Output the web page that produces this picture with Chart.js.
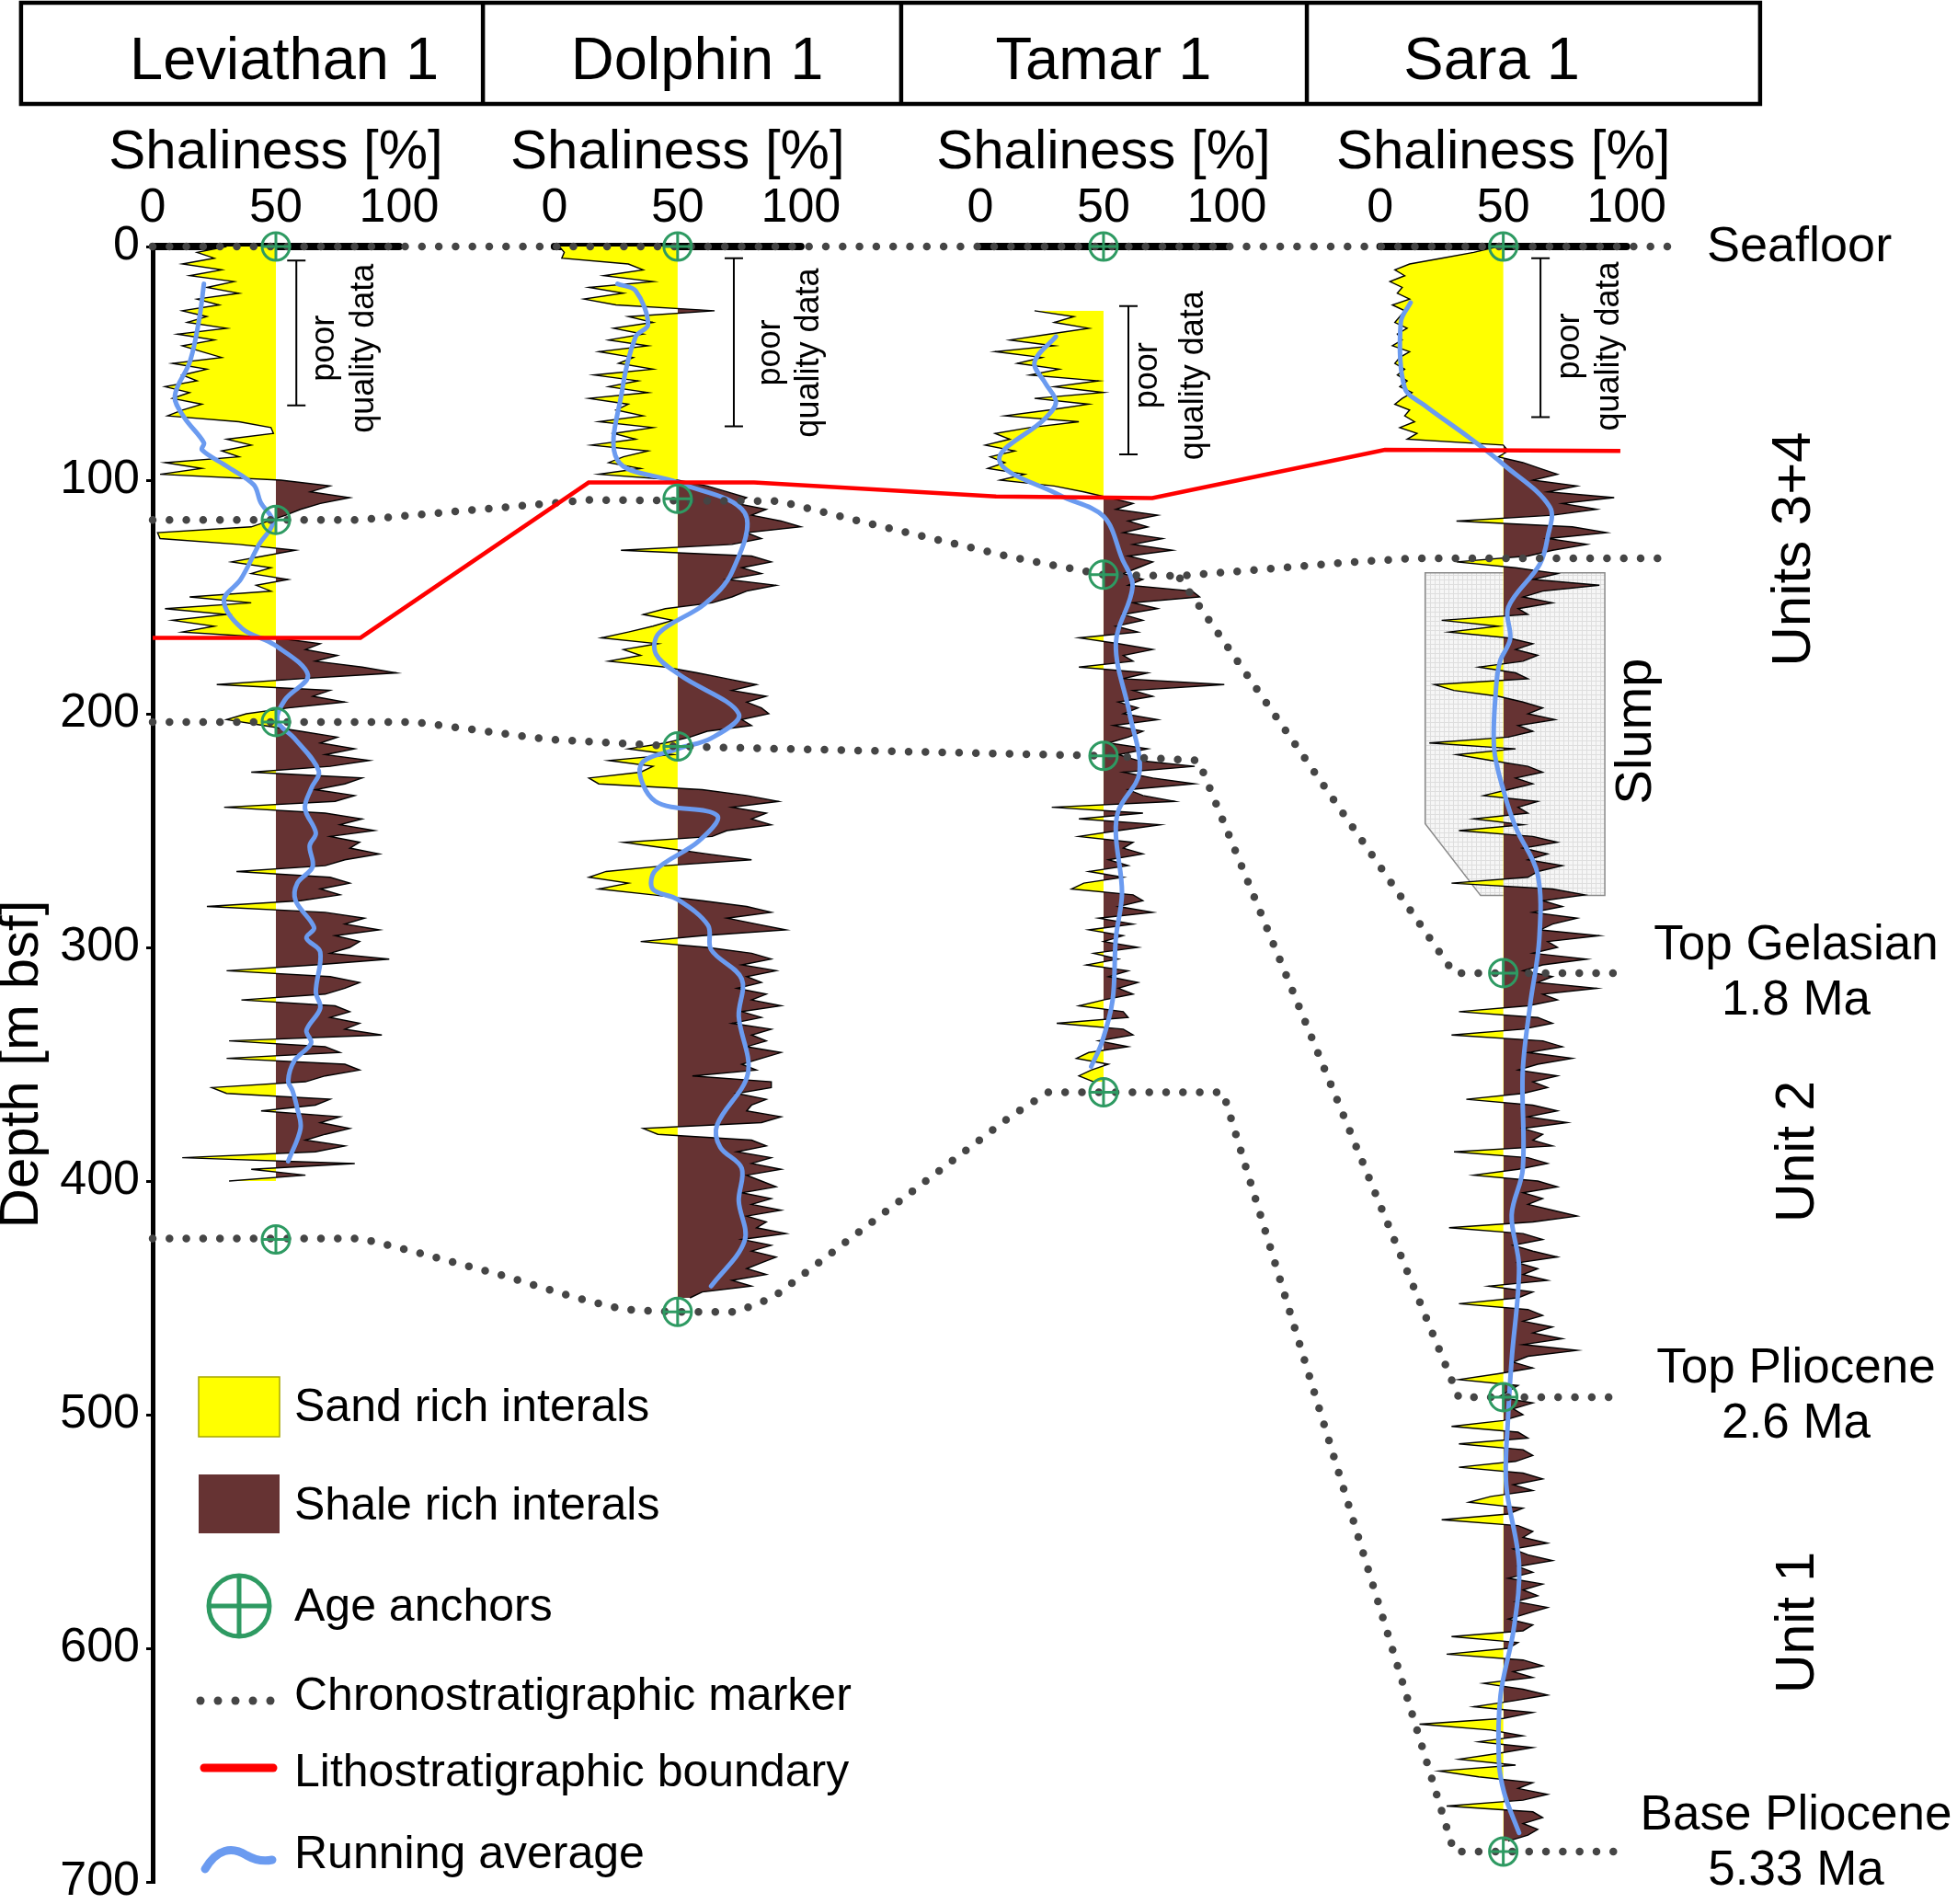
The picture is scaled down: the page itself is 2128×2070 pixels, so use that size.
<!DOCTYPE html>
<html>
<head>
<meta charset="utf-8">
<script src="https://cdn.jsdelivr.net/npm/chart.js@4.4.1/dist/chart.umd.min.js"></script>
<style>
  html, body { margin: 0; padding: 0; background: #fff; overflow: hidden; }
  #wrap { width: 2128px; height: 2070px; position: relative; }
</style>
</head>
<body>
<div id="wrap"><canvas id="logs"></canvas></div>
<script>
// Shaliness logs of four wells, with marker correlation
const wells = ['Leviathan 1', 'Dolphin 1', 'Tamar 1', 'Sara 1'];
const shalinessTicks = [0, 50, 100];
const depthTicks = [0, 100, 200, 300, 400, 500, 600, 700];

// shaliness [%], one sample every 2.5 m from the start depth
const logStep = 2.5;
const levStart = 0;
const levShale = [
  30, 18, 25, 12, 28, 15, 33, 22,   35, 18, 27, 12, 22, 14, 30, 10,
  25, 12, 20, 28, 8, 22, 12, 18,    5, 15, 8, 20, 12, 6, 35, 48,
  49, 30, 40, 28, 35, 5, 20, 3,     52, 72, 64, 80, 68, 60, 54, 47,
  40, 2, 3, 35, 58, 45, 32, 48,     40, 55, 42, 48, 15, 40, 5, 30,
  8, 25, 12, 50, 68, 62, 75, 66,    85, 99, 60, 26, 72, 65, 78, 55,
  38, 30, 45, 60, 75, 68, 82, 70,   88, 72, 40, 85, 78, 66, 82, 74,
  29, 70, 85, 76, 90, 72, 84, 80,   92, 78, 70, 34, 72, 80, 68, 76,
  60, 22, 70, 86, 78, 92, 74, 84,   80, 72, 96, 66, 30, 72, 84, 78,
  70, 36, 74, 80, 72, 84, 78, 93,   31, 70, 76, 30, 78, 84, 70, 62,
  24, 30, 72, 66, 44, 76, 68, 80,   70, 62, 78, 66, 12, 82, 40, 62,
  31
];
const dolStart = 0;
const dolShale = [
  2, 4, 3, 30, 36, 20, 40, 14,      28, 12, 25, 65, 30, 40, 24, 36,
  22, 38, 18, 32, 26, 40, 16, 34,   22, 38, 14, 30, 25, 36, 18, 40,
  24, 33, 15, 38, 28, 22, 35, 18,   50, 62, 70, 78, 74, 86, 80, 92,
  100, 78, 84, 72, 27, 80, 88, 76,  84, 70, 90, 78, 72, 64, 45, 36,
  48, 40, 30, 19, 42, 28, 35, 22,   45, 58, 70, 82, 72, 86, 78, 84,
  87, 76, 80, 62, 55, 45, 30, 48,   22, 40, 35, 14, 18, 60, 78, 91,
  72, 86, 80, 88, 70, 64, 28, 45,   62, 80, 45, 21, 14, 30, 18, 40,
  60, 78, 88, 70, 82, 94, 60, 35,   62, 80, 88, 76, 90, 78, 84, 74,
  86, 80, 92, 76, 84, 72, 88, 80,   86, 78, 92, 84, 76, 82, 56, 88,
  88, 74, 86, 80, 78, 92, 84, 36,   42, 80, 86, 74, 88, 80, 92, 78,
  84, 90, 76, 88, 80, 92, 78, 86,   82, 94, 76, 88, 80, 90, 84, 78,
  86, 72, 80, 60, 55
];
const tamStart = 27.5;
const tamShale = [
  22,
  38, 30, 44, 28, 12, 30, 6, 25,    15, 32, 20, 48, 30, 50, 22, 44,
  28, 10, 40, 20, 6, 12, 2, 14,     4, 10, 3, 18, 8, 30, 42, 52,
  62, 55, 72, 60, 68, 58, 74, 62,   78, 60, 70, 64, 58, 66, 60, 86,
  89, 62, 72, 58, 66, 55, 64, 40,   56, 70, 58, 62, 40, 68, 58, 99,
  62, 70, 56, 64, 58, 72, 54, 66,   60, 52, 68, 56, 64, 87, 58, 70,
  87, 60, 66, 79, 29, 66, 40, 73,   56, 40, 62, 58, 66, 52, 60, 44,
  58, 42, 37, 62, 66, 56, 70, 48,   62, 44, 58, 50, 64, 46, 56, 43,
  60, 52, 64, 56, 62, 50, 40, 58,   60, 31, 58, 62, 48, 60, 44, 39,
  52, 45, 40, 46
];
const saraStart = 0;
const saraShale = [
  48, 38, 25, 12, 6, 10, 4, 9,      7, 12, 5, 10, 8, 6, 11, 7,
  9, 5, 12, 8, 6, 10, 7, 11,        8, 13, 9, 6, 12, 10, 14, 8,
  15, 11, 50, 52, 48, 58, 65, 72,   62, 80, 68, 95, 74, 88, 70, 31,
  78, 92, 68, 84, 70, 60, 31, 55,   72, 62, 89, 66, 58, 70, 56, 60,
  25, 48, 28, 52, 62, 55, 64, 58,   40, 55, 60, 22, 30, 48, 58, 66,
  60, 71, 56, 62, 52, 20, 55, 31,   45, 60, 66, 55, 62, 52, 42, 64,
  56, 60, 38, 58, 32, 62, 72, 58,   68, 60, 74, 64, 60, 29, 70, 83,
  66, 74, 62, 80, 70, 65, 89, 68,   72, 62, 84, 66, 58, 70, 64, 88,
  66, 72, 60, 32, 64, 70, 58, 29,   66, 74, 60, 78, 64, 56, 72, 62,
  68, 58, 35, 62, 72, 60, 76, 58,   66, 62, 70, 30, 60, 68, 56, 38,
  64, 72, 58, 66, 60, 70, 80, 62,   28, 58, 66, 54, 62, 72, 56, 64,
  58, 68, 44, 62, 56, 32, 60, 66,   58, 70, 62, 74, 58, 80, 60, 54,
  62, 48, 32, 56, 52, 48, 62, 54,   58, 50, 29, 56, 60, 32, 58, 62,
  55, 32, 58, 66, 54, 62, 45, 36,   58, 52, 25, 56, 62, 58, 68, 54,
  60, 70, 56, 62, 52, 66, 58, 64,   55, 68, 60, 52, 62, 58, 29, 56,
  52, 27, 58, 66, 54, 62, 42, 58,   68, 54, 38, 62, 50, 16, 45, 58,
  40, 62, 48, 32, 55, 24, 40, 62,   56, 68, 58, 27, 62, 66, 58, 64,
  60, 52
];

// running averages (depth m, shaliness %)
const levAvgDepth = [16, 31, 49, 64, 73, 84, 87, 94, 102, 109.5, 118, 127.5, 142.5, 151.5, 163.5, 170.5, 183.5, 194, 203, 210.5, 224.5, 232, 240.5, 251, 256.5, 265.5, 272.5, 280, 291.5, 296, 302, 319, 326, 335.5, 341, 348.5, 357, 361.5, 369, 377.5, 391.5];
const levAvgValue = [20.8, 18.9, 15.2, 9, 12.7, 20.8, 20, 30, 41, 43.8, 48.8, 43.2, 35.7, 28.9, 36.3, 49.4, 63, 53.7, 50.6, 57.5, 67.4, 64.3, 61.8, 66.2, 63.7, 64.9, 58.7, 58, 65.5, 62.4, 68, 66.2, 68, 62.4, 64.3, 57.5, 55, 56.8, 58.7, 60, 55];
const dolAvgDepth = [16, 19, 33.5, 38.5, 61.5, 91.5, 101, 114, 139.5, 153, 165.5, 174.5, 183.5, 200, 210.5, 215, 222, 237.5, 243.5, 254.5, 267, 275, 279.5, 290.5, 301, 313.5, 329.5, 354, 376, 385.5, 394.5, 408.5, 425.5, 445];
const dolAvgValue = [25.6, 33, 38, 33, 27.5, 25.6, 50, 77.2, 72, 61, 42.4, 41.2, 51, 74.8, 63.6, 50, 35, 41, 66, 58.6, 41, 39.9, 50, 62.3, 63.6, 76, 74.8, 78.5, 66, 67.3, 76, 74.8, 77.2, 63.6];
const tamAvgDepth = [38.5, 49.5, 58.5, 66.5, 73.5, 91.5, 106.5, 115.5, 133.5, 145.5, 170, 200, 225, 241, 251.5, 276.5, 296, 322.5, 340.5, 351];
const tamAvgValue = [30.7, 22, 26.4, 30.7, 26.4, 7.7, 32.3, 50, 57.5, 61.8, 55, 60.6, 64.6, 56.2, 55, 57.5, 55, 53.7, 49.4, 45];
const saraAvgDepth = [24, 32.5, 60.5, 68, 81.5, 93.5, 111.5, 124.5, 136, 154.5, 168, 177.5, 188.5, 215, 234, 249, 268.5, 296.5, 324.5, 353, 395, 414.5, 437, 476.5, 502, 530, 564, 592, 620, 648, 662, 679];
const saraAvgValue = [12.4, 8.4, 10, 18.1, 35.8, 50.3, 68.9, 68, 64.8, 52, 52.8, 48.7, 47.1, 46.3, 50.4, 55.2, 63.9, 64.6, 60.9, 57.9, 57.9, 53.4, 56.4, 53.4, 51.9, 51.2, 56.4, 54.2, 48.9, 48.2, 50.4, 56.4];

// age anchors (depth m) in each well
const levAnchors = [0, 117, 203.5, 425];
const dolAnchors = [0, 108, 214, 456];
const tamAnchors = [0, 140.5, 218, 362];
const saraAnchors = [0, 311, 492.5, 687];

// poor quality data intervals (depth m)
const poorTop = [6, 5, 25.5, 5];
const poorBase = [68, 77, 89, 73];

// ---- layout on the shared horizontal axis (100 units = one log track) ----
const wellOffsets = [0, 163, 335.8, 498];
const X_MAX = 732.09;

// chronostratigraphic markers: x position on the panel, depth m
const seafloorX = [0, 618.7];
const seafloorDepth = [0, 0];
const markerAX = [0, 83.6, 176.9, 254.1, 292.5, 348.5, 385.8, 416.8, 482.8, 510.4, 611.6];
const markerADepth = [117, 117, 108.5, 109, 119, 133, 140.5, 141, 135.4, 133.5, 133.5];
const gelasianX = [416.8, 528, 599.3];
const gelasianDepth = [142, 311, 311];
const pliocTopX = [0, 106, 160.8, 213.1, 319.8, 385.8, 424.3, 529.9, 591];
const pliocTopDepth = [203.5, 203.5, 211, 214, 216.5, 218, 220, 492.5, 492.5];
const pliocBaseX = [0, 84.7, 105.2, 140.7, 170.9, 191, 212.3, 236.6, 251.5, 262.7, 348.5, 363.4, 434.3, 528, 593.3];
const pliocBaseDepth = [424.6, 424.6, 430, 440, 449.7, 455, 456, 456, 450, 441, 372, 362, 362, 687, 687];
// lithostratigraphic boundary
const lithoX = [0, 84.3, 176.9, 244, 342.2, 405.6, 500, 595.5];
const lithoDepth = [167.5, 167.5, 101, 101, 107, 107.7, 87, 87.5];
// slump outline in Sara 1
const slumpX = [516.3, 589.2, 589.2, 538.8, 516.3];
const slumpDepth = [139.7, 139.7, 277.8, 277.8, 247];

const FONT = '"Liberation Sans", Arial, Helvetica, sans-serif';
const YELLOW = '#ffff00';
const SHALE = '#663333';
const GREEN = '#2e9a62';
const DOT = '#454545';
const RED = '#ff0000';
const BLUE = '#6b9bf0';

Chart.defaults.font.family = FONT;
Chart.defaults.color = '#000';

function logPoints(offset, start, values) {
    return values.map((v, i) => ({ x: offset + v, y: start + i * logStep }));
}

function pairPoints(offset, depths, values) {
    return depths.map((d, i) => ({ x: offset + values[i], y: d }));
}

function linePoints(xs, depths) {
    return xs.map((x, i) => ({ x, y: depths[i] }));
}

// left of 50 % is sand (yellow), right is shale (brown)
function sandShaleFill(offset) {
    return (ctx) => {
        const chart = ctx.chart;
        const xs = chart.scales.x;
        if (!chart.chartArea || !xs) return YELLOW;
        const x0 = xs.getPixelForValue(offset);
        const x1 = xs.getPixelForValue(offset + 100);
        const g = chart.ctx.createLinearGradient(x0, 0, x1, 0);
        g.addColorStop(0, YELLOW);
        g.addColorStop(0.5, YELLOW);
        g.addColorStop(0.5, SHALE);
        g.addColorStop(1, SHALE);
        return g;
    };
}

const logs = [
    { start: levStart, values: levShale, avgD: levAvgDepth, avgV: levAvgValue, anchors: levAnchors },
    { start: dolStart, values: dolShale, avgD: dolAvgDepth, avgV: dolAvgValue, anchors: dolAnchors },
    { start: tamStart, values: tamShale, avgD: tamAvgDepth, avgV: tamAvgValue, anchors: tamAnchors },
    { start: saraStart, values: saraShale, avgD: saraAvgDepth, avgV: saraAvgValue, anchors: saraAnchors }
];

const base = { pointRadius: 0, pointHoverRadius: 0, fill: false, clip: false, tension: 0 };
const datasets = [];

logs.forEach((log, i) => {
    const off = wellOffsets[i];
    // thick shaliness scale bar at the seafloor
    datasets.push({ ...base, data: [{ x: off, y: 0 }, { x: off + 100, y: 0 }],
        borderColor: '#000', borderWidth: 8, borderCapStyle: 'round', order: 7 });
    datasets.push({ ...base, data: logPoints(off, log.start, log.values),
        borderColor: '#000', borderWidth: 1.4, backgroundColor: sandShaleFill(off),
        fill: { target: { value: off + 50 } }, order: 6 });
    datasets.push({ ...base, data: pairPoints(off, log.avgD, log.avgV),
        borderColor: BLUE, borderWidth: 5, tension: 0.35, borderCapStyle: 'round', order: 5 });
});

[[seafloorX, seafloorDepth], [markerAX, markerADepth], [gelasianX, gelasianDepth],
 [pliocTopX, pliocTopDepth], [pliocBaseX, pliocBaseDepth]].forEach(([xs, ds]) => {
    datasets.push({ ...base, data: linePoints(xs, ds), borderColor: DOT, borderWidth: 8.5,
        borderDash: [0, 18.3], borderCapStyle: 'round', order: 3 });
});

datasets.push({ ...base, data: linePoints(lithoX, lithoDepth), borderColor: RED, borderWidth: 4.5, order: 2 });

const anchorPoints = [];
logs.forEach((log, i) => log.anchors.forEach(d => anchorPoints.push({ x: wellOffsets[i] + 50, y: d })));
['circle', 'cross'].forEach((style, k) => {
    datasets.push({ ...base, data: anchorPoints, showLine: false, pointStyle: style, pointRadius: 15,
        pointBorderWidth: 3, pointBorderColor: GREEN, pointBackgroundColor: 'rgba(0,0,0,0)', order: 1 - k });
});

// ---- drawing helpers for the annotation layer ----
function label(ctx, str, x, y, size, opts = {}) {
    ctx.save();
    ctx.font = `${size}px ${FONT}`;
    ctx.fillStyle = '#000';
    ctx.textAlign = opts.align || 'center';
    ctx.textBaseline = opts.baseline || 'middle';
    ctx.translate(x, y);
    if (opts.rotate) ctx.rotate(-Math.PI / 2);
    ctx.fillText(str, 0, 0);
    ctx.restore();
}

const headerEdges = [-53.4, 134, 303.7, 468.3, 652.2];
const titleCenters = [53.4, 220.9, 385.8, 543.3];
const poorBarX = [58.3, 235.8, 395.9, 563.1];
const poorTextX = [[69.7, 86], [250.6, 266.3], [403.9, 422.4], [575, 591]];
const poorTextDepth = [43.6, 45.5, 55.2, 42.7];

const sideLabels = [
    { text: 'Seafloor', x: 630.6, depth: 0.5, size: 54, align: 'left' },
    { text: 'Units 3+4', x: 666.4, depth: 129.5, size: 60, rotate: true },
    { text: 'Slump', x: 602, depth: 207.5, size: 56, rotate: true },
    { text: 'Top Gelasian', x: 666.8, depth: 299.2, size: 53 },
    { text: '1.8 Ma', x: 666.8, depth: 322.8, size: 53 },
    { text: 'Unit 2', x: 667.9, depth: 387.4, size: 59, rotate: true },
    { text: 'Top Pliocene', x: 666.8, depth: 480.3, size: 53 },
    { text: '2.6 Ma', x: 666.8, depth: 504, size: 53 },
    { text: 'Unit 1', x: 667.9, depth: 589, size: 59, rotate: true },
    { text: 'Base Pliocene', x: 666.8, depth: 671.7, size: 53 },
    { text: '5.33 Ma', x: 666.8, depth: 695.3, size: 53 }
];

function gridPattern(ctx) {
    const c = document.createElement('canvas');
    c.width = 5; c.height = 5;
    const g = c.getContext('2d');
    g.fillStyle = '#f6f6f6';
    g.fillRect(0, 0, 5, 5);
    g.fillStyle = '#dedede';
    g.fillRect(0, 0, 5, 1);
    g.fillRect(0, 0, 1, 5);
    return ctx.createPattern(c, 'repeat');
}

const decorations = {
    id: 'decorations',
    beforeDatasetsDraw(chart) {
        const { ctx } = chart;
        const xs = chart.scales.x, ys = chart.scales.y;
        ctx.save();
        ctx.beginPath();
        slumpX.forEach((v, i) => {
            const px = xs.getPixelForValue(v), py = ys.getPixelForValue(slumpDepth[i]);
            if (i) ctx.lineTo(px, py); else ctx.moveTo(px, py);
        });
        ctx.closePath();
        ctx.fillStyle = gridPattern(ctx);
        ctx.fill();
        ctx.strokeStyle = '#8a8a8a';
        ctx.lineWidth = 1.5;
        ctx.stroke();
        ctx.restore();
    },
    afterDraw(chart) {
        const { ctx } = chart;
        const X = v => chart.scales.x.getPixelForValue(v);
        const Y = d => chart.scales.y.getPixelForValue(d);

        // well header boxes
        ctx.save();
        ctx.strokeStyle = '#000';
        ctx.lineWidth = 4.5;
        const left = X(headerEdges[0]), right = X(headerEdges[headerEdges.length - 1]);
        ctx.strokeRect(left, 3, right - left, 110);
        headerEdges.slice(1, -1).forEach(e => {
            ctx.beginPath();
            ctx.moveTo(X(e), 3);
            ctx.lineTo(X(e), 113);
            ctx.stroke();
        });
        ctx.restore();
        wells.forEach((w, i) => label(ctx, w, X(titleCenters[i]), 86, 65, { baseline: 'alphabetic' }));
        wellOffsets.forEach(o => label(ctx, 'Shaliness [%]', X(o + 50), 183, 60, { baseline: 'alphabetic' }));

        // poor quality data brackets
        ctx.save();
        ctx.strokeStyle = '#000';
        ctx.lineWidth = 2;
        poorBarX.forEach((bx, i) => {
            const x = X(bx), y1 = Y(poorTop[i]), y2 = Y(poorBase[i]);
            ctx.beginPath();
            ctx.moveTo(x, y1); ctx.lineTo(x, y2);
            ctx.moveTo(x - 10, y1); ctx.lineTo(x + 10, y1);
            ctx.moveTo(x - 10, y2); ctx.lineTo(x + 10, y2);
            ctx.stroke();
            label(ctx, 'poor', X(poorTextX[i][0]), Y(poorTextDepth[i]), 36, { rotate: true });
            label(ctx, 'quality data', X(poorTextX[i][1]), Y(poorTextDepth[i]), 36, { rotate: true });
        });
        ctx.restore();

        sideLabels.forEach(s => label(ctx, s.text, X(s.x), Y(s.depth), s.size, { align: s.align, rotate: s.rotate }));

        // legend
        ctx.save();
        ctx.fillStyle = YELLOW;
        ctx.fillRect(216, 1497, 88, 65);
        ctx.strokeStyle = '#a6a600';
        ctx.lineWidth = 1.5;
        ctx.strokeRect(216, 1497, 88, 65);
        ctx.fillStyle = SHALE;
        ctx.fillRect(216, 1603, 88, 64);

        ctx.strokeStyle = GREEN;
        ctx.lineWidth = 5;
        ctx.beginPath();
        ctx.arc(260, 1746, 33, 0, Math.PI * 2);
        ctx.moveTo(227, 1746); ctx.lineTo(293, 1746);
        ctx.moveTo(260, 1713); ctx.lineTo(260, 1779);
        ctx.stroke();

        ctx.fillStyle = DOT;
        for (let i = 0; i < 5; i++) {
            ctx.beginPath();
            ctx.arc(218 + i * 19, 1849, 4.5, 0, Math.PI * 2);
            ctx.fill();
        }

        ctx.lineCap = 'round';
        ctx.strokeStyle = RED;
        ctx.lineWidth = 9;
        ctx.beginPath();
        ctx.moveTo(222, 1922); ctx.lineTo(297, 1922);
        ctx.stroke();

        ctx.strokeStyle = BLUE;
        ctx.beginPath();
        ctx.moveTo(223, 2032);
        ctx.bezierCurveTo(236, 2010, 252, 2007, 268, 2017);
        ctx.quadraticCurveTo(282, 2025, 296, 2022);
        ctx.stroke();
        ctx.restore();

        const legendText = [['Sand rich interals', 1531], ['Shale rich interals', 1638], ['Age anchors', 1748],
            ['Chronostratigraphic marker', 1845], ['Lithostratigraphic boundary', 1928], ['Running average', 2017]];
        legendText.forEach(([t, y]) => label(ctx, t, 320, y, 50, { align: 'left' }));
    }
};

new Chart(document.getElementById('logs'), {
    type: 'line',
    data: { datasets },
    options: {
        indexAxis: 'y',
        responsive: true,
        maintainAspectRatio: false,
        animation: false,
        events: [],
        layout: { autoPadding: false, padding: { left: 0, right: 0, top: 0, bottom: 24 } },
        plugins: { legend: { display: false }, tooltip: { enabled: false } },
        scales: {
            x: {
                type: 'linear',
                position: 'top',
                min: 0,
                max: X_MAX,
                grid: { display: false, drawTicks: false },
                border: { display: false },
                afterBuildTicks: (s) => {
                    s.ticks = [];
                    wellOffsets.forEach(o => shalinessTicks.forEach(t => s.ticks.push({ value: o + t })));
                },
                ticks: {
                    autoSkip: false, maxRotation: 0, minRotation: 0, padding: 10,
                    color: '#000', font: { size: 52 },
                    callback: (value, index) => String(shalinessTicks[index % shalinessTicks.length])
                },
                afterFit: (s) => { s.height = 268; s.paddingLeft = 0; s.paddingRight = 0; }
            },
            y: {
                type: 'linear',
                reverse: true,
                min: 0,
                max: 700,
                afterBuildTicks: (s) => { s.ticks = depthTicks.map(v => ({ value: v })); },
                ticks: { padding: 7, color: '#000', font: { size: 52 } },
                grid: { drawOnChartArea: false, tickLength: 7, color: '#000', lineWidth: 3 },
                border: { display: true, color: '#000', width: 5 },
                title: { display: true, text: 'Depth [m bsf]', color: '#000', padding: 0,
                    font: { size: 60, lineHeight: 0.8 } },
                afterFit: (s) => { s.width = 166; s.paddingTop = 0; s.paddingBottom = 0; }
            }
        }
    },
    plugins: [decorations]
});
</script>
</body>
</html>
